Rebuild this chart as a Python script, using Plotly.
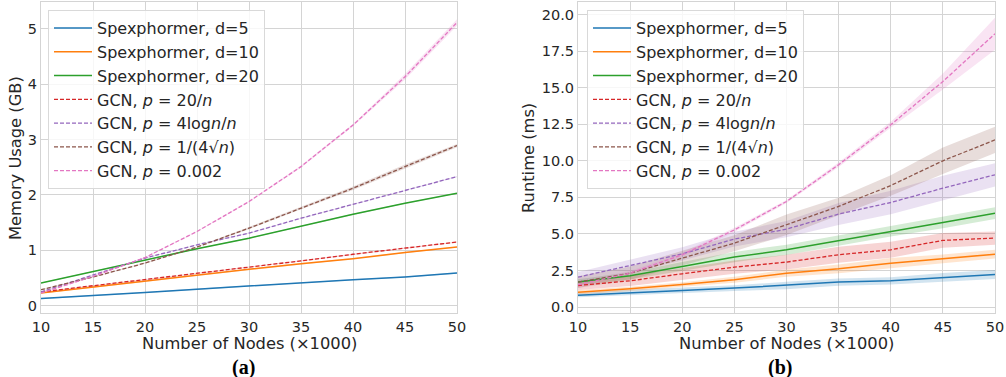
import plotly.graph_objects as go

# Number of nodes (x1000)
nodes = [10, 15, 20, 25, 30, 35, 40, 45, 50]

labels = [
    "Spexphormer, d=5",
    "Spexphormer, d=10",
    "Spexphormer, d=20",
    "GCN, <i>p</i> = 20/<i>n</i>",
    "GCN, <i>p</i> = 4log<i>n</i>/<i>n</i>",
    "GCN, <i>p</i> = 1/(4√<i>n</i>)",
    "GCN, <i>p</i> = 0.002",
]
colors = ["#1f77b4", "#ff7f0e", "#2ca02c", "#d62728", "#9467bd", "#8c564b", "#e377c2"]
fills = ["rgba(31,119,180,0.2)", "rgba(255,127,14,0.2)", "rgba(44,160,44,0.2)",
         "rgba(214,39,40,0.2)", "rgba(148,103,189,0.2)", "rgba(140,86,75,0.2)",
         "rgba(227,119,194,0.2)"]
dashed = [False, False, False, True, True, True, True]

# (a) memory usage in GB: mean and half-width of the spread
mem_d5 = [0.13, 0.18, 0.24, 0.30, 0.36, 0.42, 0.47, 0.52, 0.59]
mem_d10 = [0.23, 0.34, 0.44, 0.55, 0.66, 0.76, 0.85, 0.96, 1.06]
mem_d20 = [0.41, 0.62, 0.83, 1.03, 1.22, 1.44, 1.65, 1.85, 2.03]
mem_gcn_20n = [0.25, 0.36, 0.47, 0.58, 0.70, 0.81, 0.93, 1.04, 1.15]
mem_gcn_log = [0.25, 0.55, 0.86, 1.10, 1.31, 1.58, 1.83, 2.08, 2.33]
mem_gcn_sqrt = [0.29, 0.52, 0.77, 1.06, 1.40, 1.76, 2.12, 2.51, 2.89]
mem_gcn_const = [0.23, 0.53, 0.87, 1.34, 1.88, 2.51, 3.26, 4.13, 5.11]
mem_values = [mem_d5, mem_d10, mem_d20, mem_gcn_20n, mem_gcn_log, mem_gcn_sqrt, mem_gcn_const]
mem_spread = [
    [0.01] * 9,
    [0.01] * 9,
    [0.01] * 9,
    [0.01] * 9,
    [0.01] * 9,
    [0.01, 0.01, 0.01, 0.01, 0.02, 0.02, 0.03, 0.04, 0.03],
    [0.01, 0.01, 0.01, 0.01, 0.01, 0.02, 0.02, 0.05, 0.06],
]

# (b) runtime in ms: mean and half-width of the spread
rt_d5 = [0.82, 1.00, 1.14, 1.30, 1.48, 1.71, 1.80, 2.03, 2.23]
rt_d10 = [1.02, 1.25, 1.55, 1.87, 2.32, 2.62, 3.00, 3.30, 3.62]
rt_d20 = [1.71, 2.14, 2.78, 3.42, 3.92, 4.56, 5.17, 5.79, 6.42]
rt_gcn_20n = [1.48, 1.80, 2.28, 2.73, 3.08, 3.58, 3.92, 4.56, 4.72]
rt_gcn_log = [2.05, 2.82, 3.64, 4.65, 5.33, 6.36, 7.15, 8.13, 9.04]
rt_gcn_sqrt = [1.71, 2.32, 3.35, 4.37, 5.63, 6.88, 8.31, 10.00, 11.43]
rt_gcn_const = [1.53, 2.32, 3.58, 5.28, 7.22, 9.73, 12.46, 15.42, 18.68]
rt_values = [rt_d5, rt_d10, rt_d20, rt_gcn_20n, rt_gcn_log, rt_gcn_sqrt, rt_gcn_const]
rt_spread = [
    [0.15, 0.20, 0.20, 0.20, 0.25, 0.25, 0.25, 0.30, 0.30],
    [0.15, 0.15, 0.15, 0.20, 0.25, 0.30, 0.35, 0.30, 0.30],
    [0.20, 0.25, 0.30, 0.35, 0.35, 0.35, 0.35, 0.40, 0.40],
    [0.30, 0.35, 0.40, 0.45, 0.50, 0.55, 0.55, 0.50, 0.45],
    [0.35, 0.45, 0.45, 0.50, 0.55, 0.75, 0.80, 0.85, 0.80],
    [0.40, 0.45, 0.50, 0.55, 0.70, 0.60, 0.70, 0.90, 0.90],
    [0.20, 0.15, 0.15, 0.15, 0.10, 0.15, 0.20, 0.55, 1.10],
]

TEXT = "#262626"
GRID = "#d4d4d4"
FONT = "DejaVu Sans"

fig = go.Figure()


def add_panel(values, spread, xa, ya, legend):
    for i, (vals, hw) in enumerate(zip(values, spread)):
        upper = [v + h for v, h in zip(vals, hw)]
        lower = [v - h for v, h in zip(vals, hw)]
        fig.add_trace(go.Scatter(
            x=nodes + nodes[::-1], y=upper + lower[::-1],
            fill="toself", fillcolor=fills[i], line=dict(width=0),
            mode="lines", hoverinfo="skip", showlegend=False,
            xaxis=xa, yaxis=ya,
        ))
    for i, vals in enumerate(values):
        fig.add_trace(go.Scatter(
            x=nodes, y=vals, mode="lines", name=labels[i],
            line=dict(color=colors[i], width=1.3 if dashed[i] else 1.5,
                      dash="4px,2px" if dashed[i] else "solid"),
            xaxis=xa, yaxis=ya, legend=legend,
        ))


add_panel(mem_values, mem_spread, "x", "y", "legend")
add_panel(rt_values, rt_spread, "x2", "y2", "legend2")

y_dom = [1 - 313 / 377, 1 - 2 / 377]
axis_common = dict(
    showgrid=True, gridcolor=GRID, gridwidth=1,
    showline=True, linecolor=GRID, linewidth=1.2, mirror=True,
    zeroline=False, ticks="", tickfont=dict(family=FONT, size=14.5, color=TEXT),
    automargin=False,
)

legend_common = dict(
    bgcolor="rgba(255,255,255,0.8)", bordercolor="#d9d9d9", borderwidth=1,
    font=dict(family=FONT, size=16, color=TEXT),
    xanchor="left", yanchor="top", yref="paper", tracegroupgap=0,
    itemwidth=38,
)

fig.update_layout(
    width=1006, height=377,
    margin=dict(l=0, r=0, t=0, b=0),
    paper_bgcolor="white", plot_bgcolor="white",
    font=dict(family=FONT, color=TEXT),
    xaxis=dict(domain=[41 / 1006, 457 / 1006], range=[10, 50], anchor="y",
               tickvals=nodes, **axis_common),
    yaxis=dict(domain=y_dom, range=[-0.13, 5.48], anchor="x",
               tickvals=[0, 1, 2, 3, 4, 5], **axis_common),
    xaxis2=dict(domain=[578 / 1006, 995 / 1006], range=[10, 50], anchor="y2",
                tickvals=nodes, **axis_common),
    yaxis2=dict(domain=y_dom, range=[-0.4, 20.85], anchor="x2",
                tickvals=[0, 2.5, 5, 7.5, 10, 12.5, 15, 17.5, 20],
                ticktext=["0.0", "2.5", "5.0", "7.5", "10.0", "12.5", "15.0", "17.5", "20.0"],
                **axis_common),
    legend=dict(x=48 / 1006, y=1 - 10 / 377, **legend_common),
    legend2=dict(x=587 / 1006, y=1 - 10 / 377, **legend_common),
)

TITLE_SIZE = 16.3
annotations = [
    dict(text="Number of Nodes (×1000)", x=249 / 1006, y=1 - 343 / 377,
         font=dict(family=FONT, size=TITLE_SIZE, color=TEXT)),
    dict(text="Number of Nodes (×1000)", x=786 / 1006, y=1 - 343 / 377,
         font=dict(family=FONT, size=TITLE_SIZE, color=TEXT)),
    dict(text="Memory Usage (GB)", x=15 / 1006, y=1 - 158 / 377, textangle=-90,
         font=dict(family=FONT, size=TITLE_SIZE, color=TEXT)),
    dict(text="Runtime (ms)", x=528 / 1006, y=1 - 158 / 377, textangle=-90,
         font=dict(family=FONT, size=TITLE_SIZE, color=TEXT)),
    dict(text="<b>(a)</b>", x=243 / 1006, y=1 - 367 / 377,
         font=dict(family="Liberation Serif", size=20, color="black")),
    dict(text="<b>(b)</b>", x=780 / 1006, y=1 - 367 / 377,
         font=dict(family="Liberation Serif", size=20, color="black")),
]
for a in annotations:
    a.update(xref="paper", yref="paper", showarrow=False, xanchor="center", yanchor="middle")
fig.update_layout(annotations=annotations)

fig.write_html("out.html")
